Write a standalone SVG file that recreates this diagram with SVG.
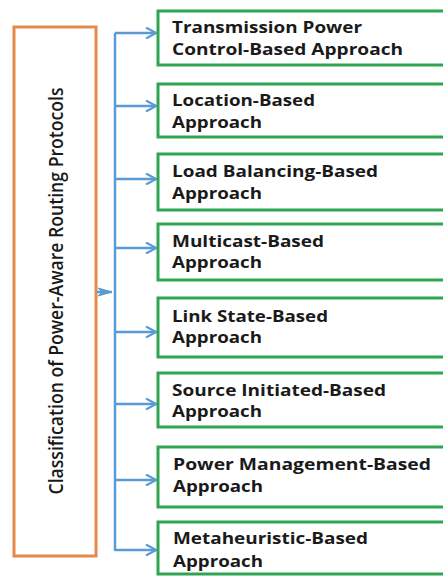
<svg xmlns="http://www.w3.org/2000/svg" width="443" height="576" viewBox="0 0 443 576">
<defs>
<style>
.box{fill:#ffffff;stroke:#2fa552;stroke-width:3}
.root{fill:#ffffff;stroke:#e58a4c;stroke-width:3}
.t{font-family:"Open Sans","Noto Sans",sans-serif;font-weight:700;font-size:16px;fill:#1a1a1a}
.rt{font-family:"Open Sans","Noto Sans",sans-serif;font-weight:600;font-size:19.5px;fill:#1a1a1a}
.c{fill:none;stroke:#5b9bd5;stroke-width:2.5}
</style>
<marker id="chev" viewBox="0 0 12 12" refX="11" refY="6" markerWidth="12" markerHeight="12" markerUnits="userSpaceOnUse" orient="auto">
<path d="M1,0.5 L11,6 L1,11.5" fill="none" stroke="#5b9bd5" stroke-width="2.2"/>
</marker>
<marker id="tri" viewBox="0 0 16 10" refX="15" refY="5" markerWidth="16" markerHeight="10" markerUnits="userSpaceOnUse" orient="auto">
<path d="M1,1 L15,5 L1,9 L5,5 Z" fill="#5b9bd5" stroke="#5b9bd5" stroke-width="1"/>
</marker>
</defs>
<rect width="443" height="576" fill="#ffffff"/>
<g id="root">
<rect class="root" x="14" y="27" width="82" height="529"/>
<text class="rt" transform="translate(63,291) rotate(-90)" text-anchor="middle" textLength="407" lengthAdjust="spacingAndGlyphs">Classification of Power-Aware Routing Protocols</text>
</g>
<g id="connectors">
<path class="c" d="M115,33 V551"/>
<path class="c" d="M97,292 H112" marker-end="url(#tri)"/>
<path class="c" d="M115,33 H156" marker-end="url(#chev)"/>
<path class="c" d="M115,106 H156" marker-end="url(#chev)"/>
<path class="c" d="M115,179 H156" marker-end="url(#chev)"/>
<path class="c" d="M115,248 H156" marker-end="url(#chev)"/>
<path class="c" d="M115,332 H156" marker-end="url(#chev)"/>
<path class="c" d="M115,404 H156" marker-end="url(#chev)"/>
<path class="c" d="M115,480 H156" marker-end="url(#chev)"/>
<path class="c" d="M115,550 H156" marker-end="url(#chev)"/>
</g>
<g id="n1">
<rect class="box" x="158" y="11" width="300" height="54"/>
<text class="t" x="172" y="33" textLength="190" lengthAdjust="spacingAndGlyphs">Transmission Power</text>
<text class="t" x="172" y="55" textLength="231" lengthAdjust="spacingAndGlyphs">Control-Based Approach</text>
</g>
<g id="n2">
<rect class="box" x="158" y="84" width="300" height="53"/>
<text class="t" x="172" y="106" textLength="143" lengthAdjust="spacingAndGlyphs">Location-Based</text>
<text class="t" x="172" y="128" textLength="90" lengthAdjust="spacingAndGlyphs">Approach</text>
</g>
<g id="n3">
<rect class="box" x="158" y="154" width="300" height="56"/>
<text class="t" x="172" y="177" textLength="206" lengthAdjust="spacingAndGlyphs">Load Balancing-Based</text>
<text class="t" x="172" y="199" textLength="90" lengthAdjust="spacingAndGlyphs">Approach</text>
</g>
<g id="n4">
<rect class="box" x="158" y="224" width="300" height="56"/>
<text class="t" x="172" y="247" textLength="152" lengthAdjust="spacingAndGlyphs">Multicast-Based</text>
<text class="t" x="172" y="268" textLength="90" lengthAdjust="spacingAndGlyphs">Approach</text>
</g>
<g id="n5">
<rect class="box" x="158" y="298" width="300" height="59"/>
<text class="t" x="172" y="322" textLength="156" lengthAdjust="spacingAndGlyphs">Link State-Based</text>
<text class="t" x="172" y="343" textLength="90" lengthAdjust="spacingAndGlyphs">Approach</text>
</g>
<g id="n6">
<rect class="box" x="158" y="373" width="300" height="54"/>
<text class="t" x="172" y="396" textLength="214" lengthAdjust="spacingAndGlyphs">Source Initiated-Based</text>
<text class="t" x="172" y="417" textLength="90" lengthAdjust="spacingAndGlyphs">Approach</text>
</g>
<g id="n7">
<rect class="box" x="158" y="447" width="300" height="60"/>
<text class="t" x="173" y="470" textLength="258" lengthAdjust="spacingAndGlyphs">Power Management-Based</text>
<text class="t" x="173" y="492" textLength="90" lengthAdjust="spacingAndGlyphs">Approach</text>
</g>
<g id="n8">
<rect class="box" x="158" y="522" width="300" height="52"/>
<text class="t" x="173" y="544" textLength="195" lengthAdjust="spacingAndGlyphs">Metaheuristic-Based</text>
<text class="t" x="173" y="567" textLength="90" lengthAdjust="spacingAndGlyphs">Approach</text>
</g>
</svg>
